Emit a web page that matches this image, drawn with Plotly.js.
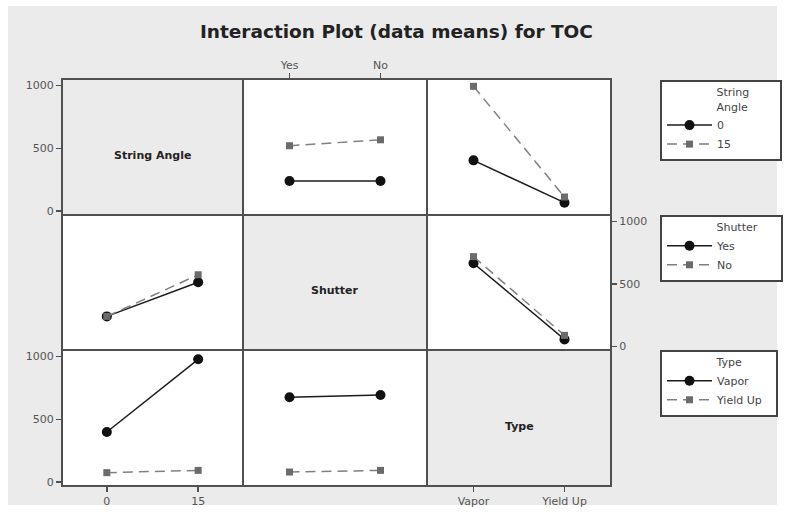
<!DOCTYPE html>
<html>
<head>
<meta charset="utf-8">
<script src="https://cdn.plot.ly/plotly-3.0.1.min.js"></script>
<style>html,body{margin:0;padding:0;background:#fff;}#chart{width:785px;height:515px;}</style>
</head>
<body>
<div id="chart"></div>
<script>
// Factor levels
const stringAngleLevels = ["0", "15"];
const shutterLevels = ["Yes", "No"];
const typeLevels = ["Vapor", "Yield Up"];
const yTicks = [0, 500, 1000];

// Row 1: TOC means traced by String Angle
const saByShutter_0 = [240, 240];
const saByShutter_15 = [520, 567];
const saByType_0 = [404, 68];
const saByType_15 = [992, 113];

// Row 2: TOC means traced by Shutter
const shutterBySA_Yes = [239, 512];
const shutterBySA_No = [239, 572];
const shutterByType_Yes = [664, 55];
const shutterByType_No = [717, 87];

// Row 3: TOC means traced by Type
const typeBySA_Vapor = [399, 976];
const typeBySA_YieldUp = [76, 94];
const typeByShutter_Vapor = [675, 693];
const typeByShutter_YieldUp = [81, 94];

const W = 785, H = 515;
const LW = 2;
// panel domains (gap of one line width so neighbouring frame lines coincide)
const colPx = [[63, 242], [244, 426], [428, 610]];
const rowPx = [[80, 214], [216, 349], [351, 485]];
const colDom = colPx.map(function (p) { return [p[0] / W, p[1] / W]; });
const rowDom = rowPx.map(function (p) { return [1 - p[1] / H, 1 - p[0] / H]; });
const xRanges = [[-0.48, 1.48], [-0.5, 1.5], [-0.5, 1.5]];
const yRange = [-22, 1042];

const frame = '#505050';
const tickFont = {family: 'DejaVu Sans, sans-serif', size: 11, color: '#555'};

function axKey(letter, k) { return letter + 'axis' + (k === 1 ? '' : k); }
function axRef(letter, k) { return letter + (k === 1 ? '' : k); }

const styleA = {
  line: {color: '#1c1c1c', width: 1.5},
  marker: {symbol: 'circle', size: 10, color: '#111'}
};
const styleB = {
  line: {color: '#808080', width: 1.5, dash: '10px,6px'},
  marker: {symbol: 'square', size: 7, color: '#6b6b6b'}
};

const traces = [];
function addPair(k, xs, yA, yB, nameA, nameB, legendId, show) {
  traces.push(Object.assign({
    type: 'scatter', mode: 'lines+markers', x: xs, y: yA, name: nameA,
    xaxis: axRef('x', k), yaxis: axRef('y', k), legend: legendId, showlegend: show
  }, JSON.parse(JSON.stringify(styleA))));
  traces.push(Object.assign({
    type: 'scatter', mode: 'lines+markers', x: xs, y: yB, name: nameB,
    xaxis: axRef('x', k), yaxis: axRef('y', k), legend: legendId, showlegend: show
  }, JSON.parse(JSON.stringify(styleB))));
}

// Row 1 (String Angle traces)
addPair(2, shutterLevels, saByShutter_0, saByShutter_15, stringAngleLevels[0], stringAngleLevels[1], 'legend', true);
addPair(3, typeLevels, saByType_0, saByType_15, stringAngleLevels[0], stringAngleLevels[1], 'legend', false);
// Row 2 (Shutter traces)
addPair(4, stringAngleLevels, shutterBySA_Yes, shutterBySA_No, shutterLevels[0], shutterLevels[1], 'legend2', true);
addPair(6, typeLevels, shutterByType_Yes, shutterByType_No, shutterLevels[0], shutterLevels[1], 'legend2', false);
// Row 3 (Type traces)
addPair(7, stringAngleLevels, typeBySA_Vapor, typeBySA_YieldUp, typeLevels[0], typeLevels[1], 'legend3', true);
addPair(8, shutterLevels, typeByShutter_Vapor, typeByShutter_YieldUp, typeLevels[0], typeLevels[1], 'legend3', false);

// Empty placeholder traces so the diagonal (label) panels are created
[1, 5, 9].forEach(function (k) {
  traces.push({type: 'scatter', mode: 'markers', x: [], y: [], showlegend: false,
    hoverinfo: 'skip', xaxis: axRef('x', k), yaxis: axRef('y', k)});
});

const layout = {
  width: W, height: H,
  margin: {l: 0, r: 0, t: 0, b: 0},
  paper_bgcolor: '#ffffff',
  plot_bgcolor: 'rgba(0,0,0,0)',
  font: tickFont,
  title: {
    text: '<b>Interaction Plot (data means) for TOC</b>',
    x: 0.505, xanchor: 'center', y: 1 - 32 / H, yanchor: 'middle',
    font: {family: 'DejaVu Sans, sans-serif', size: 18.5, color: '#222'}
  },
  shapes: [{
    type: 'rect', xref: 'paper', yref: 'paper', layer: 'below',
    x0: 8 / W, x1: 777 / W, y0: 1 - 505 / H, y1: 1 - 6 / H,
    fillcolor: '#ebebeb', line: {width: 0}
  }],
  annotations: [],
  showlegend: true
};

const diagLabels = {1: 'String Angle', 5: 'Shutter', 9: 'Type'};
const catX = {2: true, 3: true, 4: true, 6: true, 7: true, 8: true};

for (let r = 0; r < 3; r++) {
  for (let c = 0; c < 3; c++) {
    const k = r * 3 + c + 1;
    const xa = {
      domain: colDom[c], anchor: axRef('y', k), range: xRanges[c],
      showgrid: false, zeroline: false, showline: true, mirror: true,
      linecolor: frame, linewidth: LW, showticklabels: false, ticks: '',
      fixedrange: true, tickfont: tickFont
    };
    xa.type = catX[k] ? 'category' : 'linear';
    const ya = {
      domain: rowDom[r], anchor: axRef('x', k), range: yRange, type: 'linear',
      showgrid: false, zeroline: false, showline: true, mirror: true,
      linecolor: frame, linewidth: LW, showticklabels: false, ticks: '',
      fixedrange: true, tickfont: tickFont
    };
    const tk = {showticklabels: true, ticks: 'outside', ticklen: 5, tickwidth: 1.5, tickcolor: frame};
    if (k === 1 || k === 7) {
      Object.assign(ya, tk, {tickmode: 'array', tickvals: yTicks, side: 'left'});
    }
    if (k === 6) {
      Object.assign(ya, tk, {tickmode: 'array', tickvals: yTicks, side: 'right'});
    }
    if (k === 2) {
      Object.assign(xa, tk, {side: 'top'});
    }
    if (k === 7) {
      Object.assign(xa, tk, {side: 'bottom'});
    }
    if (k === 9) {
      Object.assign(xa, tk, {side: 'bottom', tickmode: 'array', tickvals: [0, 1], ticktext: typeLevels});
    }
    layout[axKey('x', k)] = xa;
    layout[axKey('y', k)] = ya;

    const cx = (colDom[c][0] + colDom[c][1]) / 2;
    const cy = rowDom[r][0] + 0.44 * (rowDom[r][1] - rowDom[r][0]);
    if (diagLabels[k]) {
      layout.annotations.push({
        xref: 'paper', yref: 'paper', x: cx, y: cy,
        xanchor: 'center', yanchor: 'middle', showarrow: false,
        text: '<b>' + diagLabels[k] + '</b>',
        font: {family: 'DejaVu Sans, sans-serif', size: 11, color: '#222'}
      });
    } else {
      layout.shapes.push({
        type: 'rect', xref: 'paper', yref: 'paper', layer: 'below',
        x0: colDom[c][0], x1: colDom[c][1], y0: rowDom[r][0], y1: rowDom[r][1],
        fillcolor: '#ffffff', line: {width: 0}
      });
    }
  }
}

// Legend titles are indented/padded with non-breaking spaces so the boxes
// share the reference's width and title position.
function pad(n) { return '\u00a0'.repeat(n); }
function padTitle(lines, trail) {
  return lines.map(function (s, i) { return pad(15) + s + pad(trail[i]); }).join('<br>');
}

const legendBase = {
  x: 660 / W, xanchor: 'left', yanchor: 'top',
  bgcolor: '#ffffff', bordercolor: '#444', borderwidth: 2,
  font: {family: 'DejaVu Sans, sans-serif', size: 11, color: '#444'},
  itemwidth: 45, tracegroupgap: 0, itemclick: false, itemdoubleclick: false
};
const legTitleFont = {family: 'DejaVu Sans, sans-serif', size: 11, color: '#444'};
layout.legend = Object.assign({}, legendBase, {y: 1 - 80 / H,
  title: {text: padTitle(['String', 'Angle'], [8, 8]), side: 'top', font: legTitleFont}});
layout.legend2 = Object.assign({}, legendBase, {y: 1 - 215 / H,
  title: {text: padTitle(['Shutter'], [6]), side: 'top', font: legTitleFont}});
layout.legend3 = Object.assign({}, legendBase, {y: 1 - 350 / H,
  title: {text: padTitle(['Type'], [9]), side: 'top', font: legTitleFont}});

Plotly.newPlot('chart', traces, layout, {displayModeBar: false, staticPlot: true});
</script>
</body>
</html>
